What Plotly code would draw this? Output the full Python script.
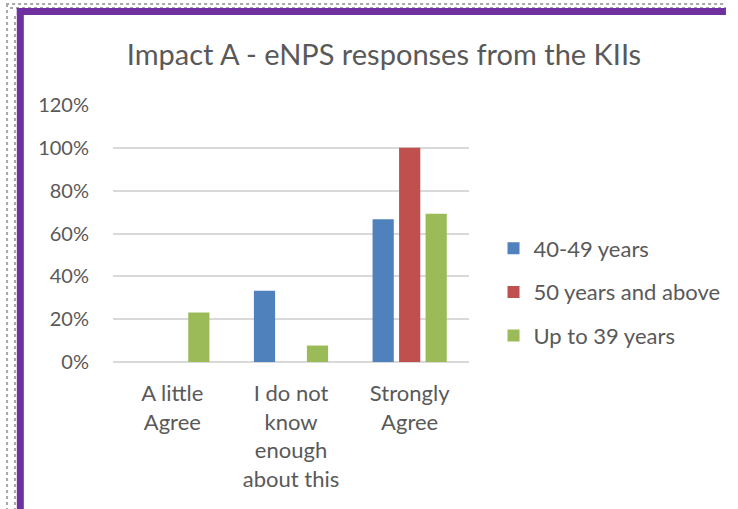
import plotly.graph_objects as go

categories = ["A little<br>Agree", "I do not<br>know<br>enough<br>about this", "Strongly<br>Agree"]
series_names = ["40-49 years", "50 years and above", "Up to 39 years"]
values_40_49 = [None, 0.333, 0.667]
values_50_up = [None, None, 1.0]
values_up_39 = [0.231, 0.077, 0.692]
colors = ["#4F81BD", "#C0504D", "#9BBB59"]
y_ticks = [0, 0.2, 0.4, 0.6, 0.8, 1.0, 1.2]

W, H = 738, 509
L, R, T, B = 113, 262, 105, 147
PW, PH = W - L - R, H - T - B


def px(x):
    return (x - L) / PW


def py(y):
    return (H - B - y) / PH


fig = go.Figure()
for name, vals, col in zip(series_names, [values_40_49, values_50_up, values_up_39], colors):
    fig.add_trace(go.Bar(x=categories, y=vals, name=name, marker=dict(color=col, line=dict(width=0)),
                         legendgroup=name))

font = "Lato, 'Open Sans', sans-serif"
grey = "#595959"

shapes = []
# dotted page edge
for yy in (4, 8):
    shapes.append(dict(type="line", xref="paper", yref="paper", x0=px(4 if yy == 4 else 8), x1=px(738),
                       y0=py(yy), y1=py(yy), line=dict(color="#A6A6A6", width=2, dash="dot")))
for xx in (5, 13):
    shapes.append(dict(type="line", xref="paper", yref="paper", x0=px(xx), x1=px(xx),
                       y0=py(4 if xx == 5 else 16), y1=py(509), line=dict(color="#A6A6A6", width=2, dash="dot")))
# purple frame
shapes.append(dict(type="line", xref="paper", yref="paper", x0=px(15), x1=px(738), y0=py(11.5), y1=py(11.5),
                   line=dict(color="#7030A0", width=7)))
shapes.append(dict(type="line", xref="paper", yref="paper", x0=px(18.5), x1=px(18.5), y0=py(8), y1=py(509),
                   line=dict(color="#7030A0", width=7)))

fig.update_layout(
    width=W, height=H,
    margin=dict(l=L, r=R, t=T, b=B),
    paper_bgcolor="white", plot_bgcolor="white",
    barmode="group", bargap=0.33, bargroupgap=0.2,
    title=dict(text="Impact A - eNPS responses from the KIIs", xref="container", x=384 / W, xanchor="center",
               yref="container", y=1 - 55 / H, yanchor="middle", font=dict(family=font, size=29, color=grey)),
    font=dict(family=font, size=20, color=grey),
    xaxis=dict(showgrid=False, showline=False, ticks="", ticklabelstandoff=16,
               tickfont=dict(size=22, color=grey)),
    yaxis=dict(range=[0, 1.2], tickvals=y_ticks, tickformat=".0%", showgrid=True, gridcolor="#D9D9D9",
               gridwidth=1.5, zeroline=True, zerolinecolor="#D9D9D9", zerolinewidth=1.5,
               showline=False, ticks="", ticklabelstandoff=23, tickfont=dict(size=20, color=grey)),
    legend=dict(x=px(501), xanchor="left", y=py(292), yanchor="middle", traceorder="grouped",
                tracegroupgap=12, font=dict(size=22, color=grey), bgcolor="rgba(0,0,0,0)"),
    shapes=shapes,
)

fig.write_html("out.html")
